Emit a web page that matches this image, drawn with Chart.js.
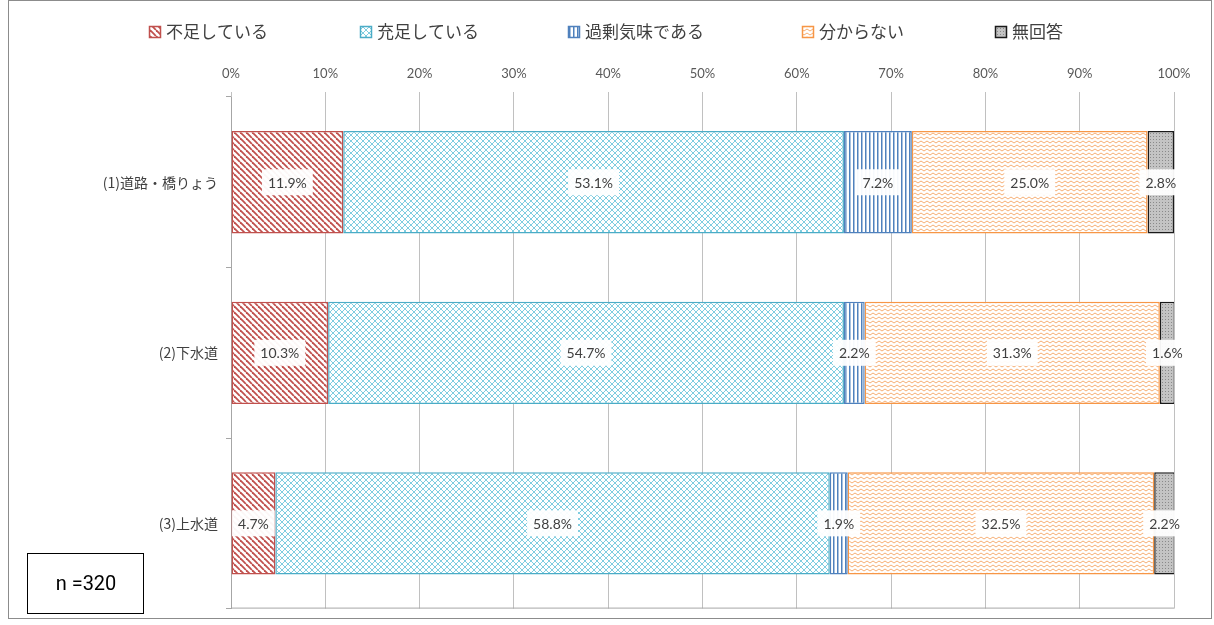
<!DOCTYPE html>
<html>
<head>
<meta charset="utf-8">
<script src="https://cdn.jsdelivr.net/npm/chart.js@4"></script>
<style>
  body { margin: 0; background: #fff; }
  #wrap { position: relative; width: 1214px; height: 625px; }
</style>
</head>
<body>
<div id="wrap"><canvas id="myChart" width="1214" height="625"></canvas></div>
<script>
// data
var categories = ['(1)道路・橋りょう', '(2)下水道', '(3)上水道'];
var seriesNames = ['不足している', '充足している', '過剰気味である', '分からない', '無回答'];
var shortage = [11.9, 10.3, 4.7];
var enough = [53.1, 54.7, 58.8];
var excess = [7.2, 2.2, 1.9];
var unknown = [25.0, 31.3, 32.5];
var noAnswer = [2.8, 1.6, 2.2];
var xTicks = [0, 10, 20, 30, 40, 50, 60, 70, 80, 90, 100];
var sampleText = 'n =320';

var numFont = 'Lato, "Noto Sans CJK JP", sans-serif';
var jpFont = '"Noto Sans CJK JP", sans-serif';

// ---------- patterns ----------
function makeTile(w, h, draw) {
    var c = document.createElement('canvas');
    c.width = w; c.height = h;
    var g = c.getContext('2d');
    g.fillStyle = '#fff';
    g.fillRect(0, 0, w, h);
    draw(g, w, h);
    return document.getElementById('myChart').getContext('2d').createPattern(c, 'repeat');
}

var redPattern = makeTile(6, 6, function(g, s){
    g.strokeStyle = '#c0504d'; g.lineWidth = 1.8;
    for (var k = -s; k <= s; k += s) {
        g.beginPath(); g.moveTo(k, 0); g.lineTo(k + s, s); g.stroke();
    }
});
var cyanPattern = makeTile(6, 6, function(g, s){
    g.strokeStyle = '#7fcde0'; g.lineWidth = 1;
    for (var k = -s; k <= s; k += s) {
        g.beginPath(); g.moveTo(k, 0); g.lineTo(k + s, s); g.stroke();
        g.beginPath(); g.moveTo(k + s, 0); g.lineTo(k, s); g.stroke();
    }
});
var bluePattern = makeTile(4, 4, function(g){
    g.fillStyle = '#4f81bd';
    g.fillRect(1, 0, 1.5, 4);
});
var orangePattern = makeTile(6, 4, function(g){
    g.strokeStyle = '#f6ae74'; g.lineWidth = 1;
    g.beginPath(); g.moveTo(0, 3); g.lineTo(3, 1); g.lineTo(6, 3); g.stroke();
});
var grayPattern = makeTile(3, 3, function(g){
    g.fillStyle = '#c4c4c4'; g.fillRect(0, 0, 3, 3);
    g.fillStyle = '#8a8a8a'; g.fillRect(1, 1, 1, 1);
});

var fills = [redPattern, cyanPattern, bluePattern, orangePattern, grayPattern];
var borders = ['#c0504d', '#4bacc6', '#4f81bd', '#f79646', '#1a1a1a'];
var values = [shortage, enough, excess, unknown, noAnswer];

// ---------- plugins ----------
var barLabels = {
    id: 'barLabels',
    afterDatasetsDraw: function(chart) {
        var ctx = chart.ctx;
        ctx.save();
        ctx.font = '14px ' + numFont;
        ctx.textAlign = 'center';
        ctx.textBaseline = 'middle';
        chart.data.datasets.forEach(function(ds, i) {
            chart.getDatasetMeta(i).data.forEach(function(bar, j) {
                var txt = ds.data[j].toFixed(1) + '%';
                var cx = (bar.x + bar.base) / 2;
                var w = ctx.measureText(txt).width + 12;
                var h = 26;
                ctx.fillStyle = 'rgba(255,255,255,0.95)';
                ctx.fillRect(cx - w / 2, bar.y - h / 2, w, h);
                ctx.fillStyle = '#404040';
                ctx.fillText(txt, cx, bar.y + 1);
            });
        });
        ctx.restore();
    }
};

var extras = {
    id: 'extras',
    afterDraw: function(chart) {
        var ctx = chart.ctx;
        var a = chart.chartArea;
        ctx.save();
        // plot bottom line
        ctx.strokeStyle = '#a6a6a6'; ctx.lineWidth = 1;
        ctx.beginPath(); ctx.moveTo(a.left, a.bottom - 0.5); ctx.lineTo(a.right, a.bottom - 0.5); ctx.stroke();
        // outer frame
        ctx.strokeStyle = '#8c8c8c';
        ctx.strokeRect(8.5, 0.5, 1203, 618);
        // legend
        var lx = [149, 360, 568, 802, 995];
        ctx.font = '17px ' + jpFont;
        ctx.textBaseline = 'middle';
        ctx.textAlign = 'left';
        seriesNames.forEach(function(name, i) {
            ctx.fillStyle = fills[i];
            ctx.fillRect(lx[i], 26, 12, 12);
            ctx.strokeStyle = borders[i]; ctx.lineWidth = 1.5;
            ctx.strokeRect(lx[i] + 0.5, 26.5, 11, 11);
            ctx.fillStyle = '#404040';
            ctx.fillText(name, lx[i] + 17, 32);
        });
        // n box
        ctx.fillStyle = '#fff';
        ctx.fillRect(27, 553, 116, 60);
        ctx.strokeStyle = '#000'; ctx.lineWidth = 1;
        ctx.strokeRect(27.5, 553.5, 116, 60);
        ctx.fillStyle = '#000';
        ctx.font = '20px Roboto, sans-serif';
        ctx.textAlign = 'center';
        ctx.fillText(sampleText, 86, 585);
        ctx.restore();
    }
};

// ---------- chart ----------
var ctx = document.getElementById('myChart').getContext('2d');

var myChart = new Chart(ctx, {
    type: 'bar',
    data: {
        labels: categories,
        datasets: seriesNames.map(function(name, i) {
            return {
                label: name,
                data: values[i],
                backgroundColor: fills[i],
                borderColor: borders[i],
                borderWidth: 1.5,
                borderSkipped: false,
                barPercentage: 0.6,
                categoryPercentage: 1.0
            };
        })
    },
    options: {
        indexAxis: 'y',
        responsive: false,
        animation: false,
        devicePixelRatio: 1,
        layout: { padding: { top: 52, bottom: 10, left: 0, right: 40 } },
        plugins: {
            legend: { display: false },
            tooltip: { enabled: false }
        },
        scales: {
            x: {
                position: 'top',
                stacked: true,
                min: 0,
                max: 100,
                afterBuildTicks: function(scale) {
                    scale.ticks = xTicks.map(function(v){ return { value: v }; });
                },
                afterFit: function(scale) { scale.height = 45; },
                ticks: {
                    callback: function(v) { return v + '%'; },
                    color: '#595959',
                    font: { family: numFont, size: 13 },
                    padding: 10,
                    maxRotation: 0
                },
                grid: { color: '#c0c0c0', tickLength: 5, lineWidth: 1 },
                border: { display: false }
            },
            y: {
                stacked: true,
                afterFit: function(scale) { scale.width = 231; },
                ticks: {
                    color: '#404040',
                    font: { family: jpFont, size: 14 },
                    padding: 8
                },
                grid: { offset: true, drawOnChartArea: false, tickLength: 5, color: '#a6a6a6' },
                border: { color: '#a6a6a6' }
            }
        }
    },
    plugins: [barLabels, extras]
});
</script>
</body>
</html>
